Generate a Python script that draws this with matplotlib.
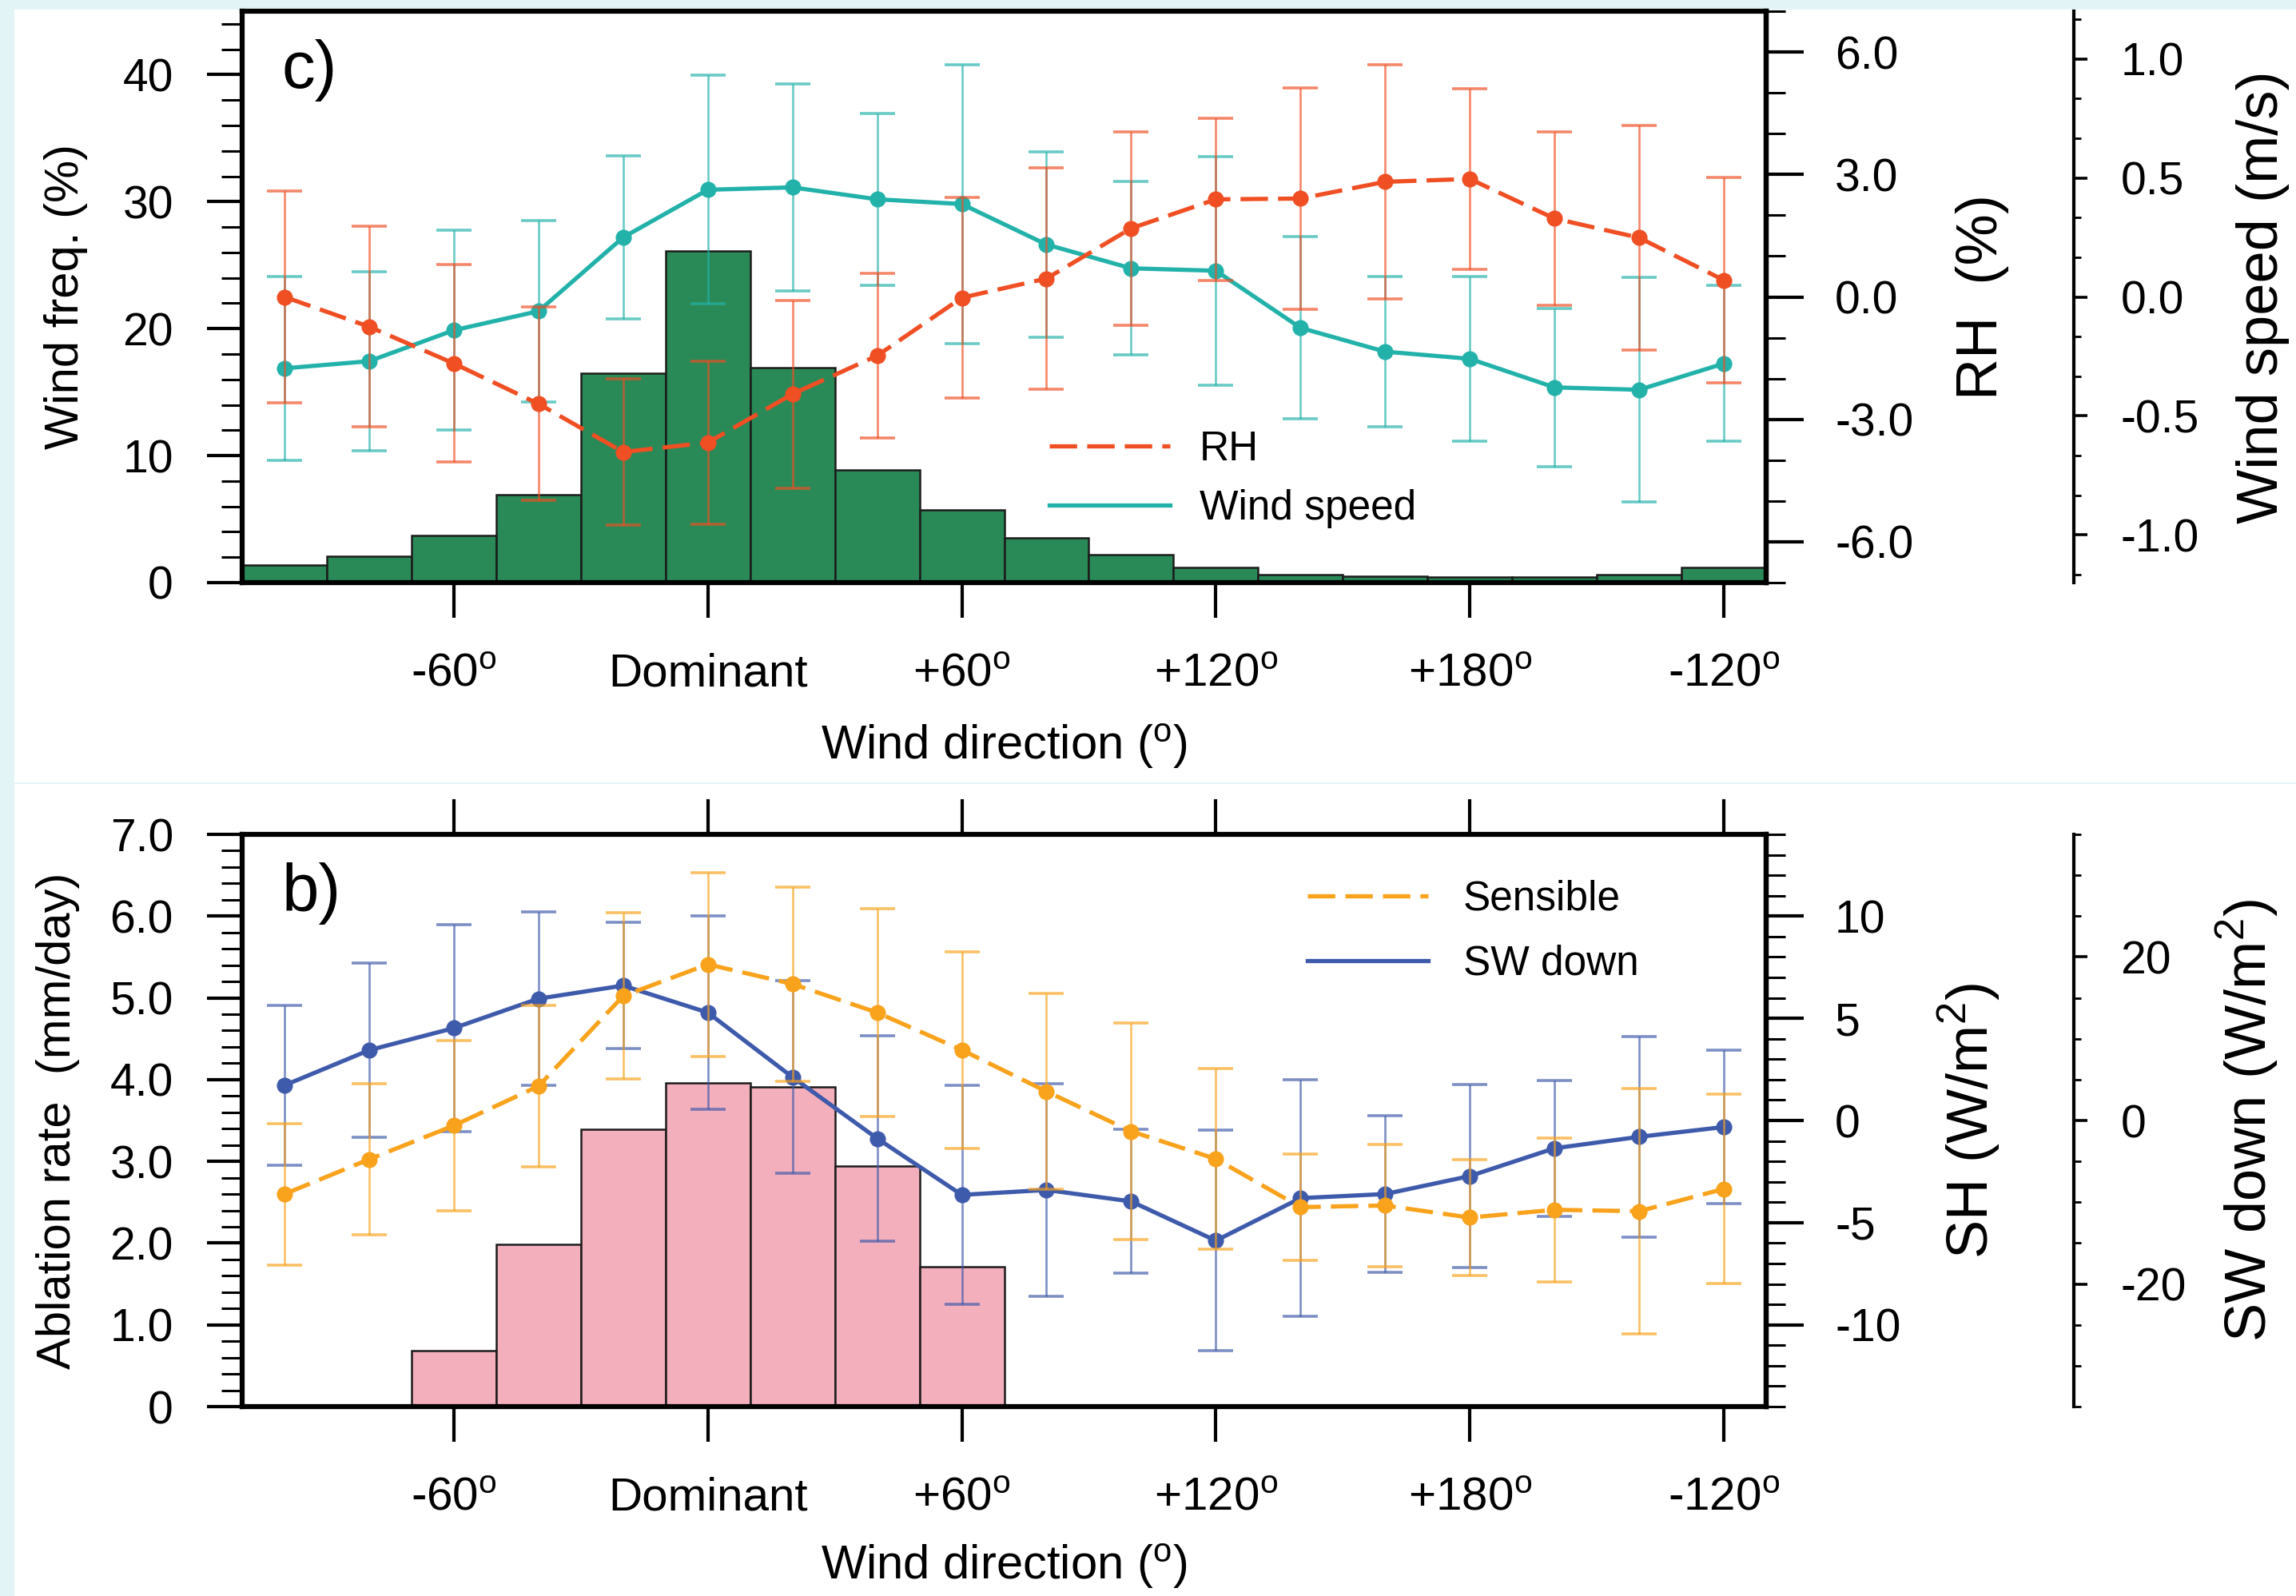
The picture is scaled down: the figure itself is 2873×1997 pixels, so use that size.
import numpy as np
import matplotlib
matplotlib.use("Agg")
import matplotlib.pyplot as plt
from matplotlib.lines import Line2D
from matplotlib.patches import Rectangle
from matplotlib.ticker import MultipleLocator, FixedLocator, FuncFormatter

plt.rcParams["font.family"] = ["Liberation Sans", "DejaVu Sans"]
plt.rcParams["mathtext.default"] = "regular"
plt.rcParams["axes.unicode_minus"] = False

# 20 degree bins, relative to the dominant wind direction
direction = np.array([-100, -80, -60, -40, -20, 0, 20, 40, 60, 80,
                      100, 120, 140, 160, 180, 200, 220, 240])
dir_ticks = [-60, 0, 60, 120, 180, 240]
dir_labels = ["-60$^{o}$", "Dominant", "+60$^{o}$", "+120$^{o}$", "+180$^{o}$", "-120$^{o}$"]

# panel c
wind_freq = [1.4, 2.1, 3.7, 6.9, 16.5, 26.1, 16.9, 8.9, 5.7, 3.5,
             2.2, 1.2, 0.6, 0.5, 0.45, 0.45, 0.6, 1.2]
rh = [0.0, -0.73, -1.63, -2.62, -3.80, -3.57, -2.38, -1.44, -0.02, 0.45,
      1.68, 2.39, 2.41, 2.82, 2.89, 1.92, 1.45, 0.41]
rh_err = [2.59, 2.46, 2.42, 2.37, 1.79, 2.0, 2.3, 2.01, 2.45, 2.71,
          2.37, 1.98, 2.72, 2.87, 2.22, 2.12, 2.75, 2.51]
wind_speed = [-0.30, -0.27, -0.14, -0.06, 0.25, 0.45, 0.46, 0.41, 0.39, 0.22,
              0.12, 0.11, -0.13, -0.23, -0.26, -0.38, -0.39, -0.28]
wind_speed_err = [0.385, 0.377, 0.42, 0.38, 0.343, 0.48, 0.435, 0.362, 0.586, 0.39,
                  0.364, 0.48, 0.382, 0.317, 0.345, 0.333, 0.471, 0.327]

# panel b
ablation = [np.nan, np.nan, 0.68, 1.98, 3.39, 3.96, 3.91, 2.94, 1.71, np.nan,
            np.nan, np.nan, np.nan, np.nan, np.nan, np.nan, np.nan, np.nan]
sensible = [-3.60, -1.90, -0.25, 1.68, 6.09, 7.64, 6.68, 5.28, 3.45, 1.42,
            -0.53, -1.88, -4.24, -4.16, -4.75, -4.37, -4.44, -3.35]
sensible_err = [3.46, 3.68, 4.15, 3.96, 4.06, 4.5, 4.75, 5.1, 4.8, 4.8,
                5.3, 4.43, 2.6, 3.0, 2.84, 3.52, 6.0, 4.63]
sw_down = [4.3, 8.6, 11.3, 14.9, 16.5, 13.2, 5.3, -2.2, -9.1, -8.5,
           -9.9, -14.7, -9.5, -9.0, -6.8, -3.4, -2.0, -0.8]
sw_down_err = [9.8, 10.7, 12.7, 10.6, 7.7, 11.8, 11.8, 12.6, 13.4, 13.0,
               8.8, 13.5, 14.5, 9.6, 11.2, 8.3, 12.3, 9.4]

RED = "#f04e23"
TEAL = "#22b2aa"
GREEN = "#2a8a57"
BLUE = "#3e5aaa"
ORANGE = "#f9a21c"
PINK = "#f4afbd"
DASH = (0, (6.5, 2.4))

W, H = 2873, 1997
OFFSET = 1.202


def box(left, top, right, bottom):
    return [left / W, 1 - bottom / H, (right - left) / W, (bottom - top) / H]


def fmt(spec):
    return FuncFormatter(lambda v, _: format(v, spec))


def style_main(ax, top_ticks):
    for s in ax.spines.values():
        s.set_linewidth(4.5)
    ax.tick_params(axis="y", which="major", direction="out", length=32, width=3,
                   labelsize=41, pad=30)
    ax.tick_params(axis="y", which="minor", direction="out", length=19, width=2.2)
    ax.tick_params(axis="x", which="major", direction="out", length=32, width=3,
                   labelsize=42, pad=31, top=top_ticks)
    ax.set_xlim(-110, 250)
    ax.set_xticks(dir_ticks, labels=dir_labels)
    ax.set_xlabel("Wind direction ($^{o}$)", fontsize=43)
    ax.xaxis.label.set_va("center")


def style_right(ax, size):
    for name in ["left", "top", "bottom"]:
        ax.spines[name].set_visible(False)
    ax.spines["right"].set_linewidth(4.5)
    ax.tick_params(axis="y", which="major", direction="out", length=34, width=3,
                   labelsize=size, pad=28)
    ax.tick_params(axis="y", which="minor", direction="out", length=17, width=2.2)


def style_offset(ax, size):
    for name in ["left", "top", "bottom"]:
        ax.spines[name].set_visible(False)
    ax.spines["right"].set_position(("axes", OFFSET))
    ax.spines["right"].set_linewidth(3)
    ax.tick_params(axis="y", which="major", direction="out", length=12, width=2.6,
                   labelsize=size, pad=30)
    ax.tick_params(axis="y", which="minor", direction="out", length=6.5, width=2)


def series(ax, y, err, color, ls, z):
    ax.errorbar(direction, y, yerr=err, fmt="none", ecolor=color, elinewidth=1.9,
                capsize=16, capthick=2.6, alpha=0.68, zorder=z)
    ax.plot(direction, y, color=color, lw=3.8, ls=ls, marker="o", ms=13.5, zorder=z + 1)


def set_ylabel(ax, text, size, x):
    ax.set_ylabel(text, fontsize=size, rotation=90)
    ax.yaxis.label.set_va("center")
    ax.yaxis.label.set_ha("center")
    ax.yaxis.set_label_coords(x, 0.5)


fig = plt.figure(figsize=(W / 100, H / 100), dpi=100, facecolor="#e2f4f6")
fig.add_artist(Rectangle((18 / W, 1 - 979 / H), 1, (979 - 12) / H,
                         transform=fig.transFigure, facecolor="white", edgecolor="none", zorder=-5))
fig.add_artist(Rectangle((18 / W, 0), 1, 1 - 981 / H,
                         transform=fig.transFigure, facecolor="white", edgecolor="none", zorder=-5))

# ---- panel c ----
ax_c = fig.add_axes(box(303, 14, 2210, 729))
bar_w = direction[1] - direction[0]
ax_c.bar(direction, wind_freq, width=bar_w, color=GREEN, edgecolor="#1c1c1c", linewidth=1.8)
ax_c.set_ylim(0, 45)
ax_c.yaxis.set_major_locator(MultipleLocator(10))
ax_c.yaxis.set_minor_locator(MultipleLocator(2))
style_main(ax_c, top_ticks=False)
ax_c.xaxis.set_label_coords(0.5, -0.287)
set_ylabel(ax_c, "Wind freq. (%)", 43, -0.1154)
ax_c.text(0.026, 0.896, "c)", transform=ax_c.transAxes, fontsize=60, va="center", ha="left")

ax_ws = ax_c.twinx()
ax_ws.set_ylim(-1.2, 1.2)
ax_ws.yaxis.set_major_locator(FixedLocator([-1.0, -0.5, 0.0, 0.5, 1.0]))
ax_ws.yaxis.set_major_formatter(fmt(".1f"))
ax_ws.yaxis.set_minor_locator(MultipleLocator(1 / 6))
style_offset(ax_ws, 41)
series(ax_ws, wind_speed, wind_speed_err, TEAL, "-", 3)
set_ylabel(ax_ws, "Wind speed (m/s)", 52, 1.3257)

ax_rh = ax_c.twinx()
ax_rh.set_ylim(-7, 7)
ax_rh.yaxis.set_major_locator(MultipleLocator(3))
ax_rh.yaxis.set_major_formatter(fmt(".1f"))
ax_rh.yaxis.set_minor_locator(MultipleLocator(1))
style_right(ax_rh, 41)
series(ax_rh, rh, rh_err, RED, DASH, 3)
set_ylabel(ax_rh, "RH  (%)", 52, 1.1416)

handles_c = [Line2D([], [], color=RED, lw=3.8, ls=DASH),
             Line2D([], [], color=TEAL, lw=3.8)]
ax_rh.legend(handles_c, ["RH", "Wind speed"], loc="center left",
             bbox_to_anchor=(0.5296, 0.181), frameon=False, fontsize=37,
             handlelength=2.93, handletextpad=0.72, labelspacing=0.5,
             borderpad=0, borderaxespad=0)

# ---- panel b ----
ax_b = fig.add_axes(box(303, 1044, 2210, 1760))
abl = np.array(ablation)
has_bar = ~np.isnan(abl)
ax_b.bar(direction[has_bar], abl[has_bar], width=bar_w, color=PINK,
         edgecolor="#1c1c1c", linewidth=1.8)
ax_b.set_ylim(0, 7)
ax_b.yaxis.set_major_locator(MultipleLocator(1))
ax_b.yaxis.set_major_formatter(FuncFormatter(lambda v, _: "0" if v == 0 else f"{v:.1f}"))
ax_b.yaxis.set_minor_locator(MultipleLocator(0.2))
style_main(ax_b, top_ticks=True)
ax_b.xaxis.set_label_coords(0.5, -0.2805)
set_ylabel(ax_b, "Ablation rate  (mm/day)", 43, -0.121)
ax_b.text(0.026, 0.896, "b)", transform=ax_b.transAxes, fontsize=60, va="center", ha="left")

ax_sw = ax_b.twinx()
ax_sw.set_ylim(-35, 35)
ax_sw.yaxis.set_major_locator(MultipleLocator(20))
ax_sw.yaxis.set_major_formatter(fmt(".0f"))
ax_sw.yaxis.set_minor_locator(MultipleLocator(5))
style_offset(ax_sw, 41)
series(ax_sw, sw_down, sw_down_err, BLUE, "-", 3)
set_ylabel(ax_sw, "SW down (W/m$^{2}$)", 52, 1.3157)

ax_sh = ax_b.twinx()
ax_sh.set_ylim(-14, 14)
ax_sh.yaxis.set_major_locator(MultipleLocator(5))
ax_sh.yaxis.set_major_formatter(fmt(".0f"))
ax_sh.yaxis.set_minor_locator(MultipleLocator(1))
style_right(ax_sh, 41)
series(ax_sh, sensible, sensible_err, ORANGE, DASH, 3)
set_ylabel(ax_sh, "SH (W/m$^{2}$)", 52, 1.1327)

handles_b = [Line2D([], [], color=ORANGE, lw=3.8, ls=DASH),
             Line2D([], [], color=BLUE, lw=3.8)]
ax_sh.legend(handles_b, ["Sensible", "SW down"], loc="center left",
             bbox_to_anchor=(0.699, 0.83), frameon=False, fontsize=37,
             handlelength=2.93, handletextpad=0.86, labelspacing=0.62,
             borderpad=0, borderaxespad=0)

fig.savefig("out.png", dpi=100, facecolor=fig.get_facecolor())
